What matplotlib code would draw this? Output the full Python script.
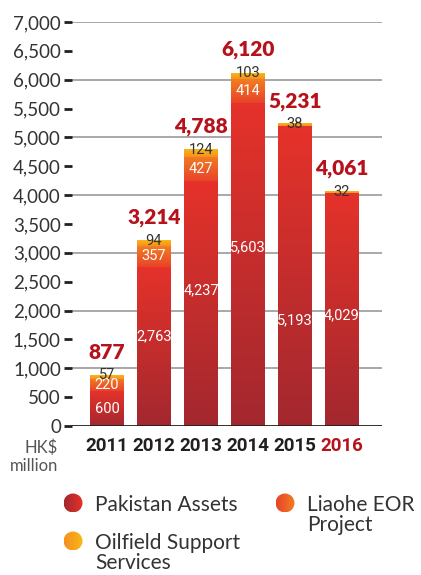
import numpy as np
import matplotlib
matplotlib.use('Agg')
from matplotlib import pyplot as plt
from matplotlib.colors import LinearSegmentedColormap
from matplotlib.patches import Circle

years = ['2011', '2012', '2013', '2014', '2015', '2016']
pakistan = [600, 2763, 4237, 5603, 5193, 4029]
liaohe = [220, 357, 427, 414, 0, 0]
oilfield = [57, 94, 124, 103, 38, 32]
totals = [877, 3214, 4788, 6120, 5231, 4061]
# height of the Pakistan label inside its segment (share of the segment)
pak_label_pos = [0.5, 0.565, 0.556, 0.554, 0.354, 0.478]

legend_names = ['Pakistan Assets', 'Liaohe EOR\nProject', 'Oilfield Support\nServices']

RED = '#b5121b'
pak_cols = ('#a3282f', '#e5322a')
lia_cols = ('#e8432a', '#f27e22')
oil_cols = ('#f59020', '#f9b716')

body = ['Lato', 'DejaVu Sans']
narrow = ['Roboto', 'DejaVu Sans']

fig = plt.figure(figsize=(4.21, 5.75), dpi=100)
ax = fig.add_axes([72/421, 1-426/575, (381.7-72)/421, (426-22)/575])


def grad_fill(ax, patch, c0, c1, zorder=2):
    h = patch.get_height()
    if h <= 0:
        return
    x, y, w = patch.get_x(), patch.get_y(), patch.get_width()
    cmap = LinearSegmentedColormap.from_list('g', [c0, c1])
    img = np.linspace(0, 1, 128).reshape(-1, 1)
    ax.imshow(img, cmap=cmap, origin='lower', extent=(x, x + w, y, y + h),
              aspect='auto', interpolation='bilinear', zorder=zorder)


x = np.arange(len(years))
w = 34/47
pak = np.array(pakistan)
lia = np.array(liaohe)
oil = np.array(oilfield)

b1 = ax.bar(x, pak, w, color='none', edgecolor='none')
b2 = ax.bar(x, lia, w, bottom=pak, color='none', edgecolor='none')
b3 = ax.bar(x, oil, w, bottom=pak + lia, color='none', edgecolor='none')
for p in b1:
    grad_fill(ax, p, *pak_cols)
for p in b2:
    grad_fill(ax, p, *lia_cols)
for p in b3:
    grad_fill(ax, p, *oil_cols)

for i in range(len(years)):
    ax.text(x[i], pak[i] * pak_label_pos[i], f'{pak[i]:,}', ha='center', va='center',
            color='white', fontsize=10.5, family=narrow, zorder=5)
    if lia[i] > 0:
        ax.text(x[i], pak[i] + lia[i] / 2, f'{lia[i]:,}', ha='center', va='center',
                color='white', fontsize=10.5, family=narrow, zorder=5)
    ax.text(x[i], pak[i] + lia[i] + oil[i], f'{oil[i]:,}', ha='center', va='center',
            color='#333333', fontsize=10.5, family=narrow, zorder=5)
    ax.annotate(f'{totals[i]:,}', (x[i], totals[i]), xytext=(0, 16.5),
                textcoords='offset points', ha='center', va='center',
                color=RED, fontsize=15, fontweight='heavy', family=body, zorder=5)

ax.set_xlim((72-107)/47, (381.7-107)/47)
ax.set_ylim(0, 7000)
for v in range(1000, 7001, 1000):
    ax.axhline(v, color='#9a9a9a', lw=1.2, zorder=1)
ax.axhline(0, color='#231f20', lw=1.3, zorder=3)

for s in ax.spines.values():
    s.set_visible(False)
ax.set_yticks(range(0, 7001, 500))
ax.set_yticklabels([f'{v:,}' for v in range(0, 7001, 500)], family=body,
                   fontsize=13.5, color='#333333')
ax.tick_params(axis='y', length=6, width=2, color='#231f20', pad=2)
ax.set_xticks(x)
ax.set_xticklabels(years, family=narrow, fontsize=13.5, fontweight='bold', color='#231f20')
ax.tick_params(axis='x', length=0, pad=8)
ax.get_xticklabels()[-1].set_color(RED)

fig.text(58/421, 1-448/575, 'HK$', ha='right', va='center', fontsize=12,
         color='#555555', family=body)
fig.text(58/421, 1-466/575, 'million', ha='right', va='center', fontsize=12,
         color='#555555', family=body)

# legend with gradient dots
lg = fig.add_axes([0, 0, 1, 1])
lg.set_xlim(0, 421)
lg.set_ylim(575, 0)
lg.axis('off')
lg.patch.set_alpha(0)
spots = [(73, 503), (285, 503), (73, 541)]
dot_cols = [pak_cols, lia_cols, oil_cols]
for (cx, cy), cols, name in zip(spots, dot_cols, legend_names):
    r = 9.5
    cmap = LinearSegmentedColormap.from_list('d', list(cols))
    img = np.linspace(0, 1, 64).reshape(1, -1)
    circ = Circle((cx, cy), r, transform=lg.transData, facecolor='none', edgecolor='none')
    lg.add_patch(circ)
    im = lg.imshow(img, cmap=cmap, extent=(cx - r, cx + r, cy + r, cy - r),
                   aspect='auto', interpolation='bilinear')
    im.set_clip_path(circ)
    lg.text(cx + 22, cy - 8, name, ha='left', va='top', fontsize=15,
            color='#333333', family=body, linespacing=1.0)
lg.set_xlim(0, 421)
lg.set_ylim(575, 0)

fig.savefig('out.png', dpi=100)
